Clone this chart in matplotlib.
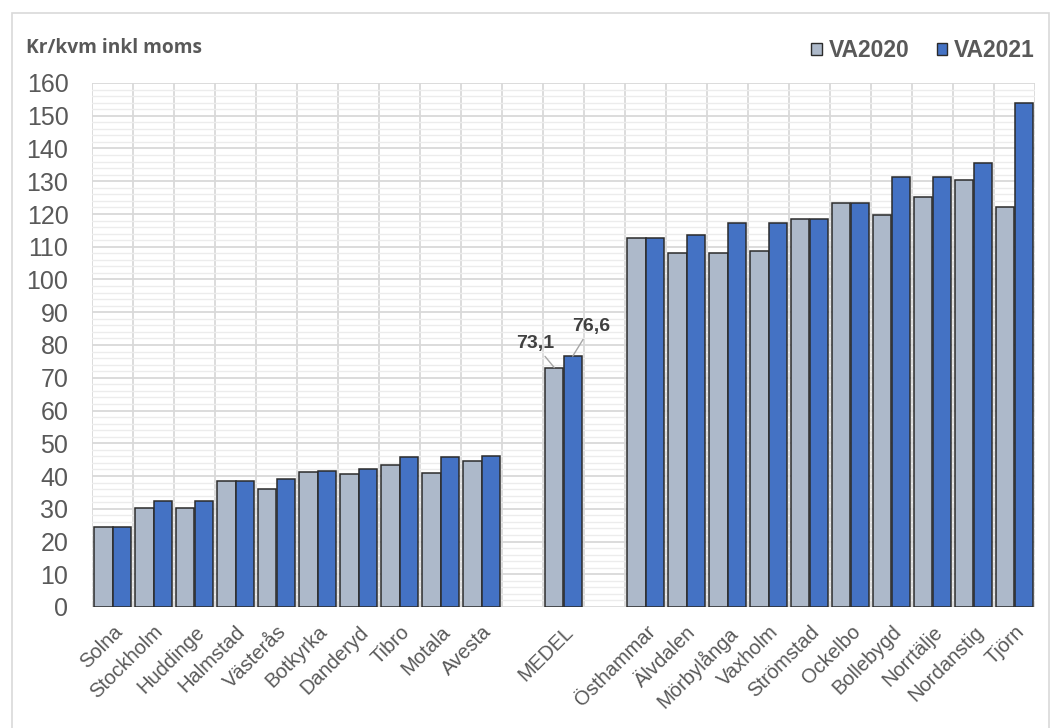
import numpy as np
import matplotlib
matplotlib.use("Agg")
import matplotlib.pyplot as plt
from matplotlib.patches import Patch, Rectangle

categories = ["Solna", "Stockholm", "Huddinge", "Halmstad", "Västerås", "Botkyrka",
              "Danderyd", "Tibro", "Motala", "Avesta", "", "MEDEL", "",
              "Östhammar", "Älvdalen", "Mörbylånga", "Vaxholm", "Strömstad",
              "Ockelbo", "Bollebygd", "Norrtälje", "Nordanstig", "Tjörn"]
va2020 = [24.5, 30.2, 30.2, 38.4, 36.0, 41.2, 40.5, 43.4, 40.9, 44.5, np.nan, 73.1, np.nan,
          112.8, 108.2, 108.2, 108.6, 118.4, 123.5, 119.6, 125.3, 130.4, 122.2]
va2021 = [24.5, 32.4, 32.4, 38.4, 39.0, 41.6, 42.2, 45.7, 45.7, 46.1, np.nan, 76.6, np.nan,
          112.8, 113.5, 117.2, 117.4, 118.4, 123.5, 131.4, 131.4, 135.7, 153.8]
series_names = ["VA2020", "VA2021"]
medel_labels = ["73,1", "76,6"]

c20 = "#adb9ca"
c21 = "#4472c4"
edge = "#2b2b2b"
txt = "#595959"

W, H = 1052, 728
fig = plt.figure(figsize=(W / 100, H / 100), dpi=100)
ax = fig.add_axes([92 / W, 1 - 607 / H, (1035 - 92) / W, (607 - 83) / H])

x = np.arange(len(categories))
bw = 0.45
ax.bar(x - bw / 2, va2020, width=bw, color=c20, edgecolor=edge, linewidth=1.1, zorder=3)
ax.bar(x + bw / 2, va2021, width=bw, color=c21, edgecolor=edge, linewidth=1.1, zorder=3)

ax.set_xlim(-0.5, len(categories) - 0.5)
ax.set_ylim(0, 160)
ax.set_yticks(np.arange(0, 161, 10))
ax.set_yticks(np.arange(0, 161, 2), minor=True)
ax.set_xticks(x)
ax.set_xticks(np.arange(-0.5, len(categories), 1), minor=True)
ax.set_xticklabels(categories, rotation=45, ha="right", va="top", rotation_mode="anchor",
                   fontsize=14.5, color=txt, family="Liberation Sans")
for lab in ax.get_yticklabels():
    lab.set_fontsize(18)
    lab.set_color(txt)
    lab.set_family("Liberation Sans")
ax.tick_params(axis="y", which="both", length=0, pad=17)
ax.tick_params(axis="x", which="both", length=0, pad=11)

ax.yaxis.grid(True, which="major", color="#d9d9d9", linewidth=1.3)
ax.yaxis.grid(True, which="minor", color="#ececec", linewidth=1.0)
ax.xaxis.grid(True, which="minor", color="#d9d9d9", linewidth=1.3)
ax.xaxis.grid(False, which="major")
ax.set_axisbelow(True)
for s in ax.spines.values():
    s.set_visible(False)

# MEDEL data labels with leader lines
mi = categories.index("MEDEL")
ax.annotate(medel_labels[0], xy=(mi - bw / 2, va2020[mi]), xytext=(-14, 17),
            textcoords="offset points", ha="center", va="center", fontsize=14,
            fontweight="bold", color="#404040", family="Liberation Sans",
            arrowprops=dict(arrowstyle="-", color="#a6a6a6", lw=1, shrinkA=1, shrinkB=0))
ax.annotate(medel_labels[1], xy=(mi + bw / 2, va2021[mi]), xytext=(13, 21),
            textcoords="offset points", ha="center", va="center", fontsize=14,
            fontweight="bold", color="#404040", family="Liberation Sans",
            arrowprops=dict(arrowstyle="-", color="#a6a6a6", lw=1, shrinkA=1, shrinkB=0))

# title
fig.text(26 / W, 1 - 53 / H, "Kr/kvm inkl moms", fontsize=13.8, fontweight="bold",
         color=txt, family="Open Sans", ha="left", va="baseline")

# legend
handles = [Patch(facecolor=c20, edgecolor=edge, linewidth=1.0),
           Patch(facecolor=c21, edgecolor=edge, linewidth=1.0)]
leg = fig.legend(handles, series_names, loc="upper right", bbox_to_anchor=(1044 / W, 1 - 30 / H),
                 ncol=2, frameon=False, handlelength=0.45, handleheight=0.45,
                 handletextpad=0.3, columnspacing=1.2, borderaxespad=0,
                 prop=dict(family="Liberation Sans", weight="bold", size=16.5))
for t in leg.get_texts():
    t.set_color(txt)

# outer border
fig.add_artist(Rectangle((12 / W, -0.1), (1049 - 12) / W, 1.1 - 13 / H,
                         transform=fig.transFigure, fill=False, edgecolor="#d9d9d9", linewidth=1.2))

fig.savefig("out.png", dpi=100)
